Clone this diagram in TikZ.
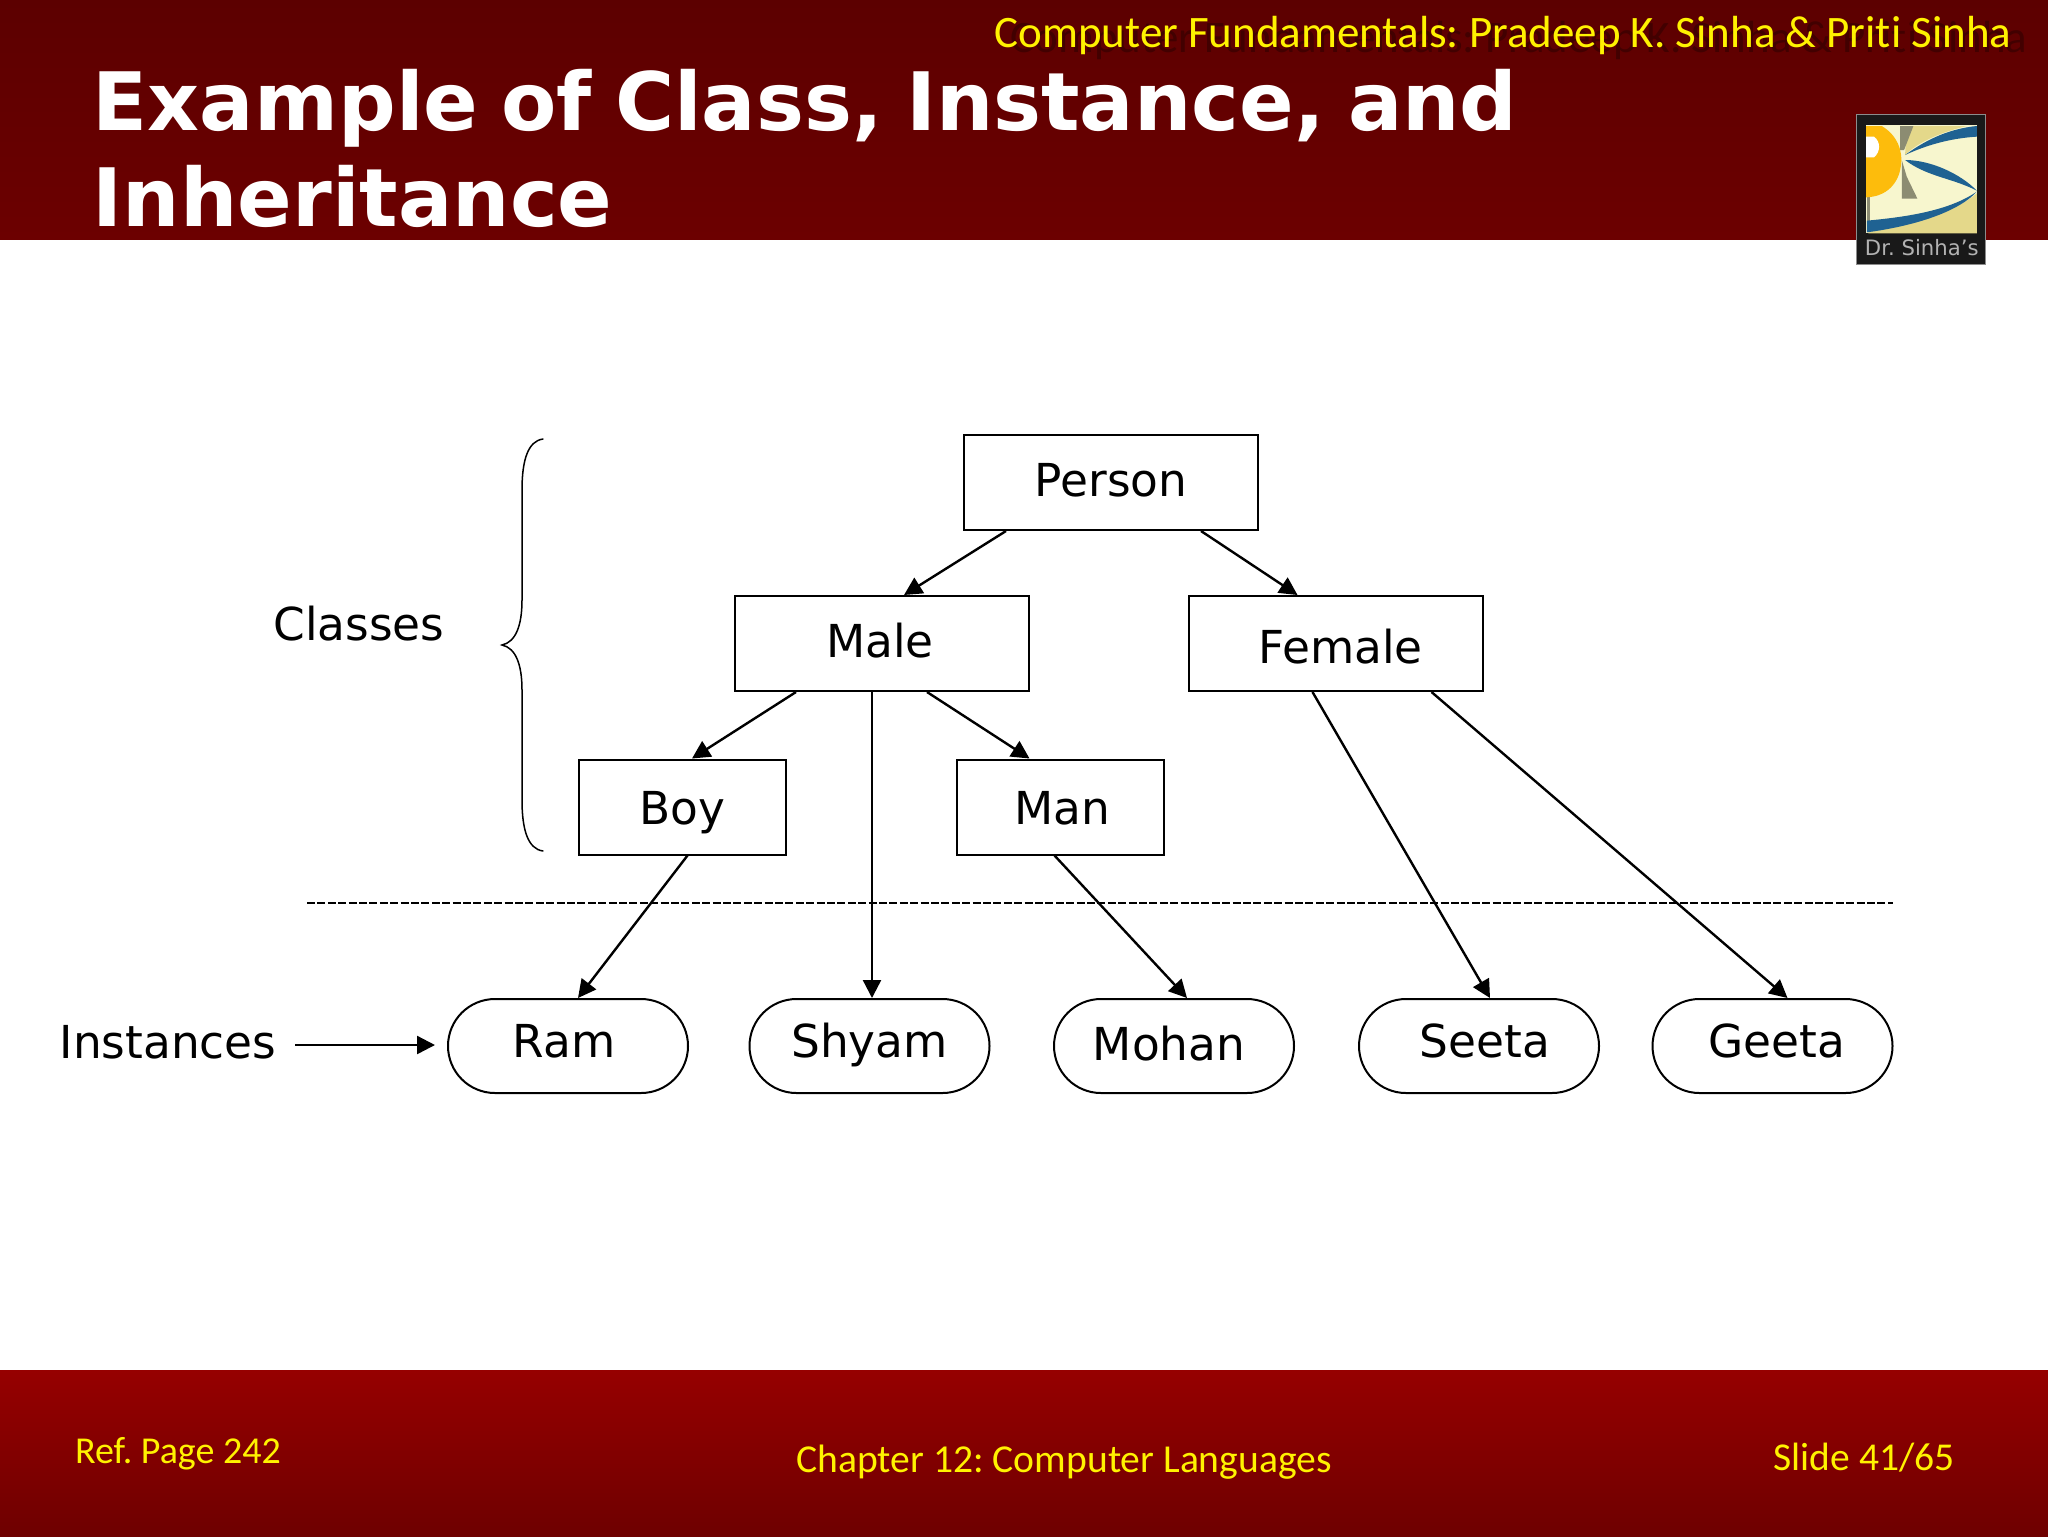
\documentclass[tikz,border=0pt]{standalone}
\usepackage{fontspec}
\setmainfont{DejaVu Sans}
\newfontfamily\carl[Ligatures=NoCommon]{Carlito}
\usetikzlibrary{arrows.meta}
\definecolor{hdrtop}{HTML}{5C0000}
\definecolor{hdrbot}{HTML}{6C0000}
\definecolor{fttop}{HTML}{960000}
\definecolor{ftbot}{HTML}{6E0000}
\definecolor{ghost}{HTML}{420000}
\definecolor{logotan}{HTML}{E4D88A}
\definecolor{logocream}{HTML}{F7F6CE}
\definecolor{logoblue}{HTML}{1F6292}
\definecolor{logogold}{HTML}{FDBC0C}
\definecolor{logostem}{HTML}{8C8C72}
\newcommand\tl[3]{\smash{\rlap{\hspace*{#1}\makebox[0pt]{\raisebox{#2}{#3}}}}}
\newcommand\ttlsp{\spaceskip=11.6pt\relax}
\tikzset{
  x=0.5pt,y=-0.5pt,
  cls/.style={draw=black,line width=1pt,fill=white,inner sep=0pt,font=\fontsize{22.7}{28}\selectfont},
  cbig/.style={cls,minimum width=147pt,minimum height=47.5pt},
  csmall/.style={cls,minimum width=103.5pt,minimum height=47.5pt},
  inst/.style={cls,rounded corners=23.5pt,minimum width=120pt,minimum height=47pt},
  tip/.style={-{Triangle[length=9pt,width=9pt]}},
  conn/.style={draw=black,line width=1.2pt,tip},
  lab/.style={inner sep=0pt,font=\fontsize{22.7}{28}\selectfont,anchor=base},
  yel/.style={inner sep=0pt,text=yellow,anchor=base},
  ttl/.style={inner sep=0pt,text=white,anchor=base west,font=\fontsize{40.3}{47}\selectfont\bfseries},
}
\begin{document}
\frenchspacing
\begin{tikzpicture}
\useasboundingbox (0,0) rectangle (2048,1536);
% bands
\shade[top color=hdrtop,bottom color=hdrbot] (0,0) rectangle (2048,239);
\shade[top color=fttop,bottom color=ftbot] (0,1370) rectangle (2048,1536);
% header texts
\node[yel,text=ghost,font=\carl\fontsize{22.5}{26}\selectfont] (ghosttext) at (1519,52.5) {Computer Fundamentals: Pradeep K. Sinha \& Priti Sinha};
\node[yel,font=\carl\fontsize{22.5}{26}\selectfont] (source) at (1503,47.5) {Computer Fundamentals: Pradeep K. Sinha \& Priti Sinha};
\node[ttl] (title1) at (92.5,131) {\ttlsp Example of Class, Instance, and};
\node[ttl] (title2) at (92.5,226) {Inheritance};
% footer texts
\node[yel,font=\carl\fontsize{19}{23}\selectfont] (ref) at (178,1463) {Ref. Page 242};
\node[yel,font=\carl\fontsize{19.8}{23}\selectfont] (chap) at (1064,1472) {Chapter 12: Computer Languages};
\node[yel,font=\carl\fontsize{19.75}{23}\selectfont] (slide) at (1864,1470) {Slide 41/65};
% logo
\begin{scope}[x=0.16667pt,y=-0.16667pt,shift={(5250,0)}]
  \fill[fill=black!90,draw=black!45,line width=0.5pt] (318,342) rectangle (707,792);
  \fill[logocream] (348,375) rectangle (680,700);
  \fill[logotan] (470,378) -- (650,378) .. controls (560,400) and (500,430) .. (465,465) -- cycle;
  \fill[logotan] (680,580) -- (680,700) -- (355,700) -- (355,672) .. controls (500,660) and (610,640) .. cycle;
  \fill[logostem] (350,378) rectangle (360,690);
  \fill[logostem] (450,378) -- (490,378) -- (462,450) -- (450,450) -- cycle;
  \fill[logostem] (455,596) -- (502,596) -- (470,530) -- (455,480) -- cycle;
  \fill[logogold] (348,378) -- (395,378) .. controls (440,405) and (460,450) .. (452,500) .. controls (445,550) and (410,590) .. (348,592) -- cycle;
  \fill[white] (348,410) -- (372,410) .. controls (392,425) and (392,455) .. (372,472) -- (348,472) -- cycle;
  \fill[logoblue] (465,465) .. controls (540,410) and (610,385) .. (680,378) -- (680,410) .. controls (600,415) and (530,435) .. cycle;
  \fill[logoblue] (465,480) .. controls (540,480) and (630,520) .. (680,572) .. controls (610,535) and (530,530) .. cycle;
  \fill[logoblue] (680,575) .. controls (600,630) and (480,650) .. (350,662) -- (350,697) .. controls (480,680) and (620,640) .. cycle;
  \node[inner sep=0pt,anchor=base,text=black!30,font=\fontsize{10.6}{12}\selectfont] (logotext) at (515,765) {Dr. Sinha's};
\end{scope}
% classes
\node[cbig] (person) at (1111,482.5) {\tl{0pt}{-7pt}{Person}};
\node[cbig] (male) at (882,643.5) {\tl{-1pt}{-7pt}{Male}};
\node[cbig] (female) at (1335.5,643.5) {\tl{2.5pt}{-10pt}{Female}};
\node[csmall] (boy) at (682,807) {\tl{0pt}{-8.5pt}{Boy}};
\node[csmall] (man) at (1060,807) {\tl{1pt}{-8.5pt}{Man}};
% instances
\node[inst] (ram) at (568,1046) {\tl{-2pt}{-5.5pt}{Ram}};
\node[inst] (shyam) at (869.5,1046) {\tl{0pt}{-5.5pt}{Shyam}};
\node[inst] (mohan) at (1174,1046) {\tl{-2.5pt}{-7pt}{Mohan}};
\node[inst] (seeta) at (1479,1046) {\tl{3pt}{-5.5pt}{Seeta}};
\node[inst] (geeta) at (1772.5,1046) {\tl{2pt}{-5.5pt}{Geeta}};
% side labels
\node[lab] (classes) at (359,640) {Classes};
\node[lab] (instances) at (168,1058) {Instances};
% brace
\draw[line width=0.75pt,line cap=round] (543,439) .. controls (528,441) and (522,460) .. (522,490) -- (522,600) .. controls (522,625) and (516,642) .. (502,645) .. controls (516,648) and (522,665) .. (522,690) -- (522,800) .. controls (522,830) and (528,849) .. (543,851);
% separator
\coordinate (sepL) at (307,903);
\coordinate (sepR) at (1893,903);
\draw[line width=0.75pt,dash pattern=on 4pt off 1.2pt] (sepL) -- (sepR);
% connectors
\draw[conn] ([xshift=21.5pt]person.south west) -- ([xshift=11pt]male.north);
\draw[conn] ([xshift=-29pt]person.south east) -- ([xshift=-19pt]female.north);
\draw[conn] ([xshift=31pt]male.south west) -- ([xshift=5pt]boy.north);
\draw[conn] ([xshift=69pt]male.south west) -- ([xshift=1.25pt]shyam.north);
\draw[conn] ([xshift=96.5pt]male.south west) -- ([xshift=-67.5pt]man.north east);
\draw[conn] ([xshift=55pt]boy.south west) -- ([xshift=5pt]ram.north);
\draw[conn] ([xshift=49.5pt]man.south west) -- ([xshift=6.5pt]mohan.north);
\draw[conn] ([xshift=62.5pt]female.south west) -- ([xshift=5.5pt]seeta.north);
\draw[conn] ([xshift=122pt]female.south west) -- ([xshift=7.5pt]geeta.north);
\coordinate (instEnd) at ([xshift=-6pt,yshift=0.5pt]ram.west);
\coordinate (instStart) at ([xshift=63.5pt,yshift=6.5pt]instances.base);
\draw[conn] (instStart) -- (instEnd);
\end{tikzpicture}
\end{document}
